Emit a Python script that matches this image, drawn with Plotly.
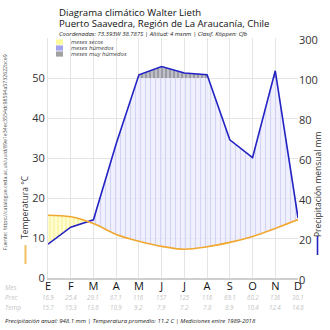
import numpy as np
import plotly.graph_objects as go

# Monthly climate normals, Puerto Saavedra (1989-2018)
months = ["E", "F", "M", "A", "M", "J", "J", "A", "S", "O", "N", "D"]
prec = [16.9, 25.4, 29.1, 67.1, 116, 157.2, 125, 116, 69.1, 60.2, 136, 30.1]
temp = [15.7, 15.3, 13.6, 10.9, 9.2, 7.9, 7.2, 7.8, 8.9, 10.4, 12.4, 14.6]
temp_ticks = [0, 10, 20, 30, 40, 50]
prec_ticks = [0, 20, 40, 60, 80, 100, 300]

FONT = "Open Sans"
W, H = 330, 330
L, R, T, B = 48, 32, 38, 52


def px(x):
    return (x - L) / (W - L - R)


def py(y):
    return (H - B - y) / (H - T - B)


def prec_to_axis(p):
    # 2 mm per degree up to 100 mm, 20 mm per degree above
    return p / 2 if p <= 100 else 50 + (p - 100) / 20


n = len(months)
xs = list(range(n))
pc = [prec_to_axis(p) for p in prec]
cap = [50.0] * n


def at(vals, x):
    return float(np.interp(x, xs, vals))


def roots(a, b):
    out = []
    for i in range(n - 1):
        d0, d1 = a[i] - b[i], a[i + 1] - b[i + 1]
        if d0 * d1 < 0:
            out.append(i + d0 / (d0 - d1))
    return out


fig = go.Figure()

# dry / humid regions between the temperature and precipitation curves
cuts = sorted(set(xs + roots(pc, temp)))
regions = []
for a, b in zip(cuts[:-1], cuts[1:]):
    m = (a + b) / 2
    wet = at(pc, m) > at(temp, m)
    if regions and regions[-1][0] == wet and regions[-1][2] == a:
        regions[-1][2] = b
    else:
        regions.append([wet, a, b])

cap_roots = roots(pc, cap)
for wet, a, b in regions:
    pts = [x for x in cuts if a <= x <= b]
    fig.add_trace(go.Scatter(
        x=pts, y=[at(temp, x) for x in pts], mode="lines",
        line=dict(width=0, shape="spline", smoothing=1),
        hoverinfo="skip", showlegend=False))
    if wet:
        up = sorted(pts + [r for r in cap_roots if a < r < b])
        uy = [min(at(pc, x), 50) for x in up]
        pat = dict(shape="|", size=5, solidity=0.25,
                   fgcolor="rgba(165,165,235,0.75)",
                   bgcolor="rgba(236,236,252,0.75)")
    else:
        up = pts
        uy = [at(pc, x) for x in up]
        pat = dict(shape="|", size=4, solidity=0.35,
                   fgcolor="rgba(245,225,70,0.8)",
                   bgcolor="rgba(255,252,200,0.8)")
    fig.add_trace(go.Scatter(
        x=up, y=uy, mode="lines", line=dict(width=0),
        fill="tonexty", fillcolor="rgba(0,0,0,0)", fillpattern=pat,
        hoverinfo="skip", showlegend=False))

# very humid months: precipitation above 100 mm
edges = sorted(xs + cap_roots)
segments = []
cur = []
for a, b in zip(edges[:-1], edges[1:]):
    if at(pc, (a + b) / 2) > 50:
        if cur and cur[-1] == a:
            cur.append(b)
        else:
            cur = [a, b]
            segments.append(cur)
for s in segments:
    yy = [at(pc, x) for x in s]
    fig.add_trace(go.Scatter(
        x=s + s[::-1], y=yy + [50] * len(s), mode="lines",
        line=dict(width=0), fill="toself", fillcolor="rgba(0,0,0,0)",
        fillpattern=dict(shape="|", size=4, solidity=0.5,
                         fgcolor="#7a7a84", bgcolor="#bfbfc8"),
        hoverinfo="skip", showlegend=False))

# main lines
fig.add_trace(go.Scatter(
    x=xs, y=pc, mode="lines", line=dict(color="#2323c4", width=1.6),
    showlegend=False, hoverinfo="skip"))
fig.add_trace(go.Scatter(
    x=xs, y=temp, mode="lines",
    line=dict(color="#f0a830", width=1.6, shape="spline", smoothing=1),
    showlegend=False, hoverinfo="skip"))
# invisible trace to carry the right-hand axis
fig.add_trace(go.Scatter(x=[0], y=[0], yaxis="y2", mode="markers",
                         marker=dict(opacity=0), showlegend=False,
                         hoverinfo="skip"))

ann = []


def text(x, y, s, size, color="#222", italic=False, anchor="left",
         angle=0, xref="paper"):
    ann.append(dict(
        x=x, y=y, xref=xref, yref="paper", text=s, showarrow=False,
        xanchor=anchor, yanchor="middle", textangle=angle,
        font=dict(family=FONT, size=size, color=color,
                  style="italic" if italic else "normal")))


text(px(57), py(13), "Diagrama climático Walter Lieth", 9.6, "#111")
text(px(57), py(24), "Puerto Saavedra, Región de La Araucanía, Chile", 9.6, "#111")
text(px(57), py(34),
     "Coordenadas: 73.393W 38.787S | Altitud: 4 msnm | Clasif. Köppen: Cfb",
     6, "#222", italic=True)

# legend swatches
shapes = []
legend = [("meses secos", "#fbf99a"), ("meses húmedos", "#a3a3ee"),
          ("meses muy húmedos", "#a0a0a0")]
for k, (lab, col) in enumerate(legend):
    yc = 42 + 6 * k
    shapes.append(dict(type="rect", xref="paper", yref="paper",
                       x0=px(56), x1=px(63), y0=py(yc - 2.6), y1=py(yc + 2.6),
                       fillcolor=col, line=dict(width=0)))
    text(px(69), py(yc), lab, 6, "#444", italic=True)

# axis titles with line keys
text(px(24), py(207), "Temperatura °C", 8.5, "#333", angle=-90, anchor="center")
shapes.append(dict(type="line", xref="paper", yref="paper",
                   x0=px(25.5), x1=px(25.5), y0=py(245), y1=py(264),
                   line=dict(color="#f0c060", width=2)))
text(px(317), py(185), "Precipitación mensual mm", 8.5, "#333", angle=-90,
     anchor="center")
shapes.append(dict(type="line", xref="paper", yref="paper",
                   x0=px(317.5), x1=px(317.5), y0=py(236), y1=py(255),
                   line=dict(color="#2323c4", width=1.6)))

text(px(5), py(152),
     "Fuente: https://catalogue.ceda.ac.uk/uuid/89e1e34ec3554dc98594a5732622bce9",
     5.2, "#555", angle=-90, anchor="center")

# data table under the axis
grey = "#c4c4c4"
text(px(3), py(287), "Mes", 6.5, grey, italic=True)
text(px(3), py(297), "Prec", 6.5, grey, italic=True)
text(px(3), py(307), "Temp", 6.5, grey, italic=True)
for i in range(n):
    text(i, py(297), f"{prec[i]:.3g}", 6.2, grey, italic=True,
         anchor="center", xref="x")
    text(i, py(307), f"{temp[i]:.3g}", 6.2, grey, italic=True,
         anchor="center", xref="x")

total = sum(prec)
mean_t = sum(temp) / n
text(px(3), py(321),
     f"Precipitación anual: {total:.1f} mm | Temperatura promedio: {mean_t:.1f} C"
     " | Mediciones entre 1989-2018", 6, "#222", italic=True)

fig.update_layout(
    width=W, height=H, margin=dict(l=L, r=R, t=T, b=B),
    paper_bgcolor="white", plot_bgcolor="white",
    font=dict(family=FONT),
    annotations=ann, shapes=shapes, showlegend=False,
    xaxis=dict(range=[0, n - 1], tickvals=xs, ticktext=months,
               tickfont=dict(size=11, color="#111"), ticks="", ticklen=0,
               ticklabelstandoff=-3,
               showgrid=True, gridcolor="#e4e4e4", gridwidth=1,
               zeroline=False, showline=True, linecolor="#cfcfcf",
               linewidth=2, fixedrange=True),
    yaxis=dict(range=[0, 60], tickvals=temp_ticks,
               ticktext=[str(t) for t in temp_ticks],
               tickfont=dict(size=11, color="#333"), ticks="",
               showgrid=True, gridcolor="#e4e4e4", zeroline=False,
               showline=True, linecolor="#e4e4e4", fixedrange=True),
    yaxis2=dict(range=[0, 60], overlaying="y", side="right",
                tickvals=[prec_to_axis(p) for p in prec_ticks],
                ticktext=[str(p) for p in prec_ticks],
                tickfont=dict(size=11, color="#333"), ticks="",
                ticklabelshift=2,
                showgrid=False, zeroline=False, showline=False,
                fixedrange=True),
)

fig.write_html("out.html", config=dict(displayModeBar=False))
